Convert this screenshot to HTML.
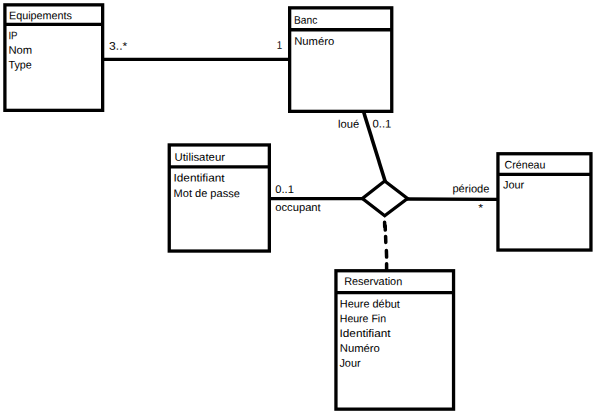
<!DOCTYPE html>
<html lang="fr"><head><meta charset="utf-8"><title>Diagramme de classes</title>
<style>
html,body{margin:0;padding:0;background:#fff;}
body{width:600px;height:415px;overflow:hidden;}
svg{display:block;}
text{font-family:"Liberation Sans",sans-serif;font-size:11px;fill:#000;}
.b{fill:#fff;stroke:#000;stroke-width:3.3;}
.l{fill:none;stroke:#000;stroke-width:3.3;}
.d{stroke-width:3.5;stroke-linecap:round;}
</style></head><body>
<svg width="600" height="415" viewBox="0 0 600 415">
<rect x="0" y="0" width="600" height="415" fill="#fff"/>

<line class="l" x1="102" y1="59.4" x2="290" y2="59.4"/>
<line class="l" x1="269" y1="198.7" x2="364" y2="198.7"/>
<line class="l" x1="406" y1="199.0" x2="498" y2="199.4"/>
<line class="l" style="stroke-width:3.6" x1="363.2" y1="110.5" x2="385.2" y2="181.5"/>
<line class="l d" x1="384.6" y1="222.2" x2="384.7" y2="226.6"/>
<line class="l d" x1="385.2" y1="225.8" x2="385.3" y2="230.1"/>
<line class="l d" x1="385.6" y1="236.4" x2="385.8" y2="242.4"/>
<line class="l d" x1="386.4" y1="250.6" x2="386.6" y2="257.1"/>
<line class="l d" x1="386.6" y1="263.7" x2="386.6" y2="270"/>
<polygon class="b" points="384.7,181.0 407.5,198.5 384.7,215.7 362.4,198.5" stroke-linejoin="miter"/>
<rect class="b" x="4.90" y="4.85" width="97.75" height="105.50"/>
<line class="l" x1="4.90" y1="24.45" x2="102.65" y2="24.45"/>
<rect class="b" x="289.65" y="7.85" width="102.10" height="103.50"/>
<line class="l" x1="289.65" y1="29.75" x2="391.75" y2="29.75"/>
<rect class="b" x="169.25" y="144.95" width="100.10" height="106.10"/>
<line class="l" x1="169.25" y1="166.90" x2="269.35" y2="166.90"/>
<rect class="b" x="497.95" y="153.75" width="93.00" height="96.30"/>
<line class="l" x1="497.95" y1="174.40" x2="590.95" y2="174.40"/>
<rect class="b" x="335.95" y="270.75" width="117.60" height="138.40"/>
<line class="l" x1="335.95" y1="292.55" x2="453.55" y2="292.55"/>
<text x="9.00" y="19.30" textLength="63.00" lengthAdjust="spacingAndGlyphs" transform="rotate(0.1 40.50 19.30)">Equipements</text>
<text x="8.40" y="39.20" textLength="9.10" lengthAdjust="spacingAndGlyphs" transform="rotate(0.1 12.95 39.20)">IP</text>
<text x="8.50" y="53.80" textLength="23.70" lengthAdjust="spacingAndGlyphs" transform="rotate(0.1 20.35 53.80)">Nom</text>
<text x="8.50" y="68.50" textLength="23.30" lengthAdjust="spacingAndGlyphs" transform="rotate(0.1 20.15 68.50)">Type</text>
<text x="109.10" y="49.70" textLength="18.10" lengthAdjust="spacingAndGlyphs" transform="rotate(0.1 118.15 49.70)">3..*</text>
<text x="276.80" y="48.80" textLength="5.40" lengthAdjust="spacingAndGlyphs" transform="rotate(0.1 279.50 48.80)">1</text>
<text x="294.00" y="23.80" textLength="23.30" lengthAdjust="spacingAndGlyphs" transform="rotate(0.1 305.65 23.80)">Banc</text>
<text x="294.20" y="44.90" textLength="40.00" lengthAdjust="spacingAndGlyphs" transform="rotate(0.1 314.20 44.90)">Numéro</text>
<text x="338.00" y="127.70" textLength="21.10" lengthAdjust="spacingAndGlyphs" transform="rotate(0.1 348.55 127.70)">loué</text>
<text x="372.60" y="127.60" textLength="18.80" lengthAdjust="spacingAndGlyphs" transform="rotate(0.1 382.00 127.60)">0..1</text>
<text x="174.50" y="160.80" textLength="50.50" lengthAdjust="spacingAndGlyphs" transform="rotate(0.1 199.75 160.80)">Utilisateur</text>
<text x="173.50" y="181.60" textLength="51.10" lengthAdjust="spacingAndGlyphs" transform="rotate(0.1 199.05 181.60)">Identifiant</text>
<text x="173.60" y="197.10" textLength="66.20" lengthAdjust="spacingAndGlyphs" transform="rotate(0.1 206.70 197.10)">Mot de passe</text>
<text x="275.30" y="193.10" textLength="18.60" lengthAdjust="spacingAndGlyphs" transform="rotate(0.1 284.60 193.10)">0..1</text>
<text x="275.30" y="211.10" textLength="45.40" lengthAdjust="spacingAndGlyphs" transform="rotate(0.1 298.00 211.10)">occupant</text>
<text x="452.40" y="192.40" textLength="37.10" lengthAdjust="spacingAndGlyphs" transform="rotate(0.1 470.95 192.40)">période</text>
<text x="478.30" y="211.60" textLength="4.80" lengthAdjust="spacingAndGlyphs" transform="rotate(0.1 480.70 211.60)">*</text>
<text x="504.60" y="168.60" textLength="40.80" lengthAdjust="spacingAndGlyphs" transform="rotate(0.1 525.00 168.60)">Créneau</text>
<text x="503.00" y="188.60" textLength="21.20" lengthAdjust="spacingAndGlyphs" transform="rotate(0.1 513.60 188.60)">Jour</text>
<text x="344.20" y="285.10" textLength="58.00" lengthAdjust="spacingAndGlyphs" transform="rotate(0.1 373.20 285.10)">Reservation</text>
<text x="339.80" y="307.60" textLength="60.00" lengthAdjust="spacingAndGlyphs" transform="rotate(0.1 369.80 307.60)">Heure début</text>
<text x="339.80" y="322.30" textLength="46.20" lengthAdjust="spacingAndGlyphs" transform="rotate(0.1 362.90 322.30)">Heure Fin</text>
<text x="339.50" y="337.00" textLength="51.10" lengthAdjust="spacingAndGlyphs" transform="rotate(0.1 365.05 337.00)">Identifiant</text>
<text x="339.80" y="351.90" textLength="40.10" lengthAdjust="spacingAndGlyphs" transform="rotate(0.1 359.85 351.90)">Numéro</text>
<text x="339.40" y="366.80" textLength="21.20" lengthAdjust="spacingAndGlyphs" transform="rotate(0.1 350.00 366.80)">Jour</text>
</svg>
</body></html>
